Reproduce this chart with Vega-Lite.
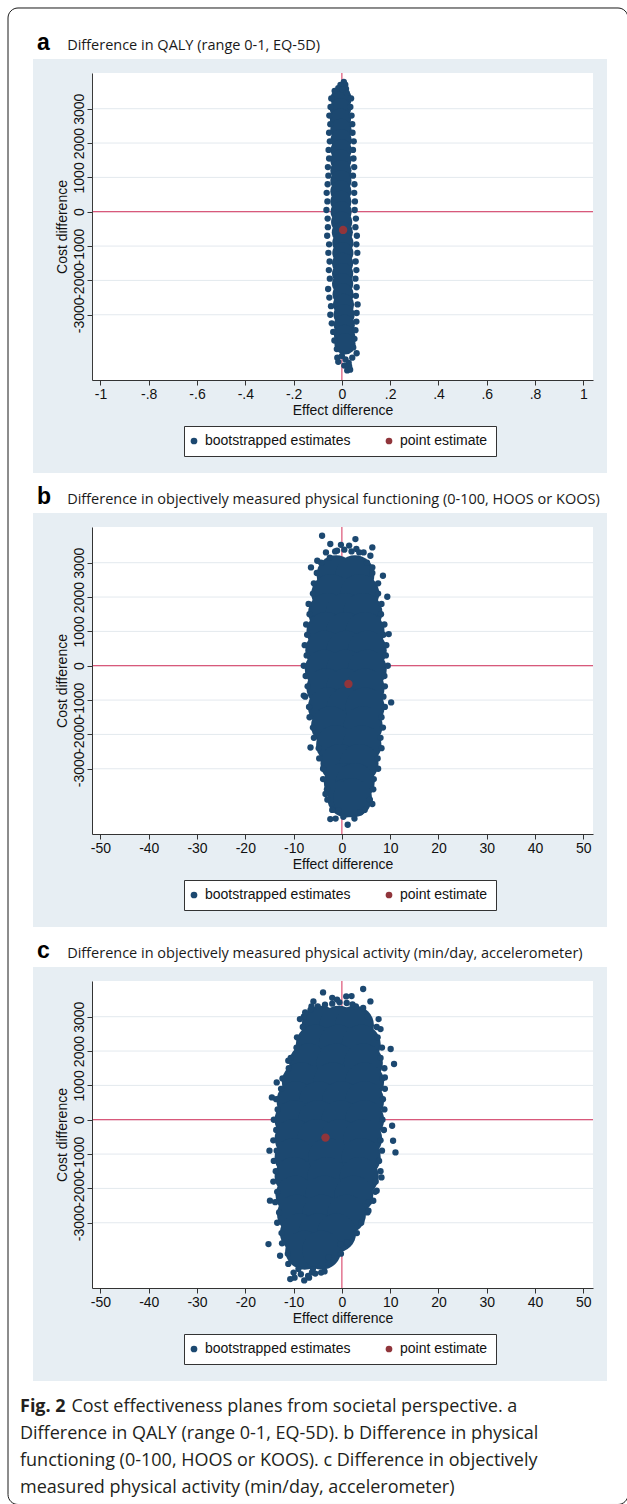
{
  "$schema": "https://vega.github.io/schema/vega-lite/v6.json",
  "autosize": {"type": "none"},
  "padding": {"left": 33, "top": 59, "right": 594, "bottom": 1445},
  "background": "white",
  "bounds": "flush",
  "spacing": 40,
  "title": {
    "text": "Fig. 2",
    "subtitle": [
      "\u200b\u00a0\u00a0\u00a0\u00a0\u00a0\u00a0\u00a0\u00a0\u00a0\u00a0\u00a0Cost effectiveness planes from societal perspective. a",
      "Difference in QALY (range 0-1, EQ-5D). b Difference in physical",
      "functioning (0-100, HOOS or KOOS). c Difference in objectively",
      "measured physical activity (min/day, accelerometer)"
    ],
    "orient": "bottom", "anchor": "start", "frame": "group", "dx": -13, "offset": -106.5,
    "font": "Open Sans", "fontSize": 18, "fontWeight": "bold", "color": "#231f20",
    "subtitleFont": "Open Sans", "subtitleFontSize": 18, "subtitleFontWeight": "normal", "subtitleColor": "#231f20",
    "subtitlePadding": -18, "subtitleLineHeight": 27
  },
  "datasets": {
    "grid": [{"g": -3000}, {"g": -2000}, {"g": -1000}, {"g": 0}, {"g": 1000}, {"g": 2000}, {"g": 3000}],
    "a_core": [
      {"x": -0.003, "y": 3300}, {"x": -0.006, "y": 3000}, {"x": -0.006, "y": 2700}, {"x": -0.004, "y": 2400}, {"x": -0.003, "y": 2100},
      {"x": -0.003, "y": 1800}, {"x": -0.004, "y": 1500}, {"x": -0.004, "y": 1200}, {"x": -0.004, "y": 900}, {"x": -0.004, "y": 600},
      {"x": -0.004, "y": 300}, {"x": -0.003, "y": 0}, {"x": -0.001, "y": -300}, {"x": 0.002, "y": -600}, {"x": 0.004, "y": -900},
      {"x": 0.004, "y": -1200}, {"x": 0.003, "y": -1500}, {"x": 0.003, "y": -1800}, {"x": 0.003, "y": -2100}, {"x": 0.005, "y": -2400},
      {"x": 0.007, "y": -2700}, {"x": 0.009, "y": -3000}, {"x": 0.01, "y": -3300}, {"x": 0.011, "y": -3600}, {"x": 0.013, "y": -3850}
    ],
    "a_pts": [
      {"x": 0.008, "y": 3780}, {"x": 0.014, "y": 3700}, {"x": -0.006, "y": 3690}, {"x": -0.015, "y": 3600}, {"x": 0.017, "y": 3580},
      {"x": 0.004, "y": 3560}, {"x": -0.03, "y": 3520}, {"x": 0.02, "y": 3460},
      {"x": -0.044, "y": 3300}, {"x": -0.047, "y": 3050}, {"x": -0.052, "y": 2800}, {"x": -0.048, "y": 2550}, {"x": -0.053, "y": 2300},
      {"x": -0.05, "y": 2050}, {"x": -0.055, "y": 1800}, {"x": -0.053, "y": 1550}, {"x": -0.058, "y": 1300}, {"x": -0.056, "y": 1050},
      {"x": -0.059, "y": 800}, {"x": -0.063, "y": 550}, {"x": -0.06, "y": 300}, {"x": -0.064, "y": 50}, {"x": -0.059, "y": -200},
      {"x": -0.058, "y": -450}, {"x": -0.061, "y": -700}, {"x": -0.053, "y": -950}, {"x": -0.056, "y": -1200}, {"x": -0.051, "y": -1450},
      {"x": -0.054, "y": -1700}, {"x": -0.05, "y": -1950}, {"x": -0.057, "y": -2250}, {"x": -0.052, "y": -2500}, {"x": -0.045, "y": -2750},
      {"x": -0.048, "y": -3000}, {"x": -0.042, "y": -3250}, {"x": -0.036, "y": -3500}, {"x": -0.031, "y": -3750}, {"x": -0.021, "y": -4000},
      {"x": -0.019, "y": -4250},
      {"x": 0.038, "y": 3300}, {"x": 0.035, "y": 3050}, {"x": 0.04, "y": 2800}, {"x": 0.043, "y": 2550}, {"x": 0.044, "y": 2300},
      {"x": 0.049, "y": 2050}, {"x": 0.046, "y": 1800}, {"x": 0.048, "y": 1550}, {"x": 0.051, "y": 1300}, {"x": 0.046, "y": 1050},
      {"x": 0.052, "y": 800}, {"x": 0.051, "y": 550}, {"x": 0.054, "y": 300}, {"x": 0.053, "y": 50}, {"x": 0.058, "y": -200},
      {"x": 0.056, "y": -450}, {"x": 0.062, "y": -700}, {"x": 0.06, "y": -950}, {"x": 0.064, "y": -1200}, {"x": 0.057, "y": -1450},
      {"x": 0.06, "y": -1700}, {"x": 0.056, "y": -1950}, {"x": 0.061, "y": -2200}, {"x": 0.058, "y": -2450}, {"x": 0.065, "y": -2700},
      {"x": 0.061, "y": -2950}, {"x": 0.06, "y": -3200}, {"x": 0.056, "y": -3450}, {"x": 0.052, "y": -3700}, {"x": 0.047, "y": -3950},
      {"x": 0.061, "y": -4120}, {"x": 0.043, "y": -4250},
      {"x": 0.0, "y": -4200}, {"x": 0.015, "y": -4300}, {"x": -0.015, "y": -4370}, {"x": 0.028, "y": -4400}, {"x": 0.01, "y": -4480},
      {"x": 0.03, "y": -4500}, {"x": 0.022, "y": -4620}, {"x": 0.034, "y": -4600}
    ],
    "a_est": [{"x": 0.005, "y": -530}],
    "b_core": [
      {"x": -1.2, "y": 2650}, {"x": 2.7, "y": 2650},
      {"x": -2.3, "y": 2100}, {"x": 3.7, "y": 2100},
      {"x": -2.95, "y": 1550}, {"x": 0.7, "y": 1550}, {"x": 4.35, "y": 1550},
      {"x": -3.3, "y": 1000}, {"x": 0.75, "y": 1000}, {"x": 4.8, "y": 1000},
      {"x": -3.55, "y": 450}, {"x": 0.85, "y": 450}, {"x": 5.25, "y": 450},
      {"x": -3.65, "y": -100}, {"x": 0.8, "y": -100}, {"x": 5.25, "y": -100},
      {"x": -3.3, "y": -650}, {"x": 0.75, "y": -650}, {"x": 4.8, "y": -650},
      {"x": -3.0, "y": -1200}, {"x": 0.9, "y": -1200}, {"x": 4.8, "y": -1200},
      {"x": -2.35, "y": -1750}, {"x": 4.4, "y": -1750},
      {"x": -1.3, "y": -2300}, {"x": 4.15, "y": -2300},
      {"x": -0.4, "y": -2850}, {"x": 3.55, "y": -2850},
      {"x": 0.3, "y": -3400}, {"x": 2.75, "y": -3400},
      {"x": 1.0, "y": -3850}, {"x": 2.2, "y": -3850}
    ],
    "b_pts": [
      {"x": -1.4, "y": 3330}, {"x": -4.3, "y": 3000}, {"x": -5.2, "y": 2700}, {"x": -5.8, "y": 2400}, {"x": -6.0, "y": 2100},
      {"x": -6.9, "y": 1800}, {"x": -6.7, "y": 1500}, {"x": -7.4, "y": 1200}, {"x": -7.2, "y": 900}, {"x": -7.7, "y": 600},
      {"x": -7.3, "y": 300}, {"x": -7.9, "y": 0}, {"x": -7.5, "y": -300}, {"x": -7.1, "y": -600}, {"x": -7.6, "y": -900},
      {"x": -6.8, "y": -1200}, {"x": -6.7, "y": -1500}, {"x": -6.0, "y": -1800}, {"x": -5.8, "y": -2100}, {"x": -4.8, "y": -2400},
      {"x": -4.7, "y": -2700}, {"x": -3.9, "y": -3000}, {"x": -3.9, "y": -3300}, {"x": -3.1, "y": -3600}, {"x": -3.0, "y": -3900},
      {"x": -2.0, "y": -4200}, {"x": -1.3, "y": -4450},
      {"x": 3.6, "y": 3300}, {"x": 5.2, "y": 3000}, {"x": 6.3, "y": 2700}, {"x": 7.5, "y": 2400}, {"x": 7.5, "y": 2100},
      {"x": 8.2, "y": 1800}, {"x": 8.1, "y": 1500}, {"x": 8.8, "y": 1200}, {"x": 8.6, "y": 900}, {"x": 9.2, "y": 600},
      {"x": 9.1, "y": 300}, {"x": 9.5, "y": 0}, {"x": 8.8, "y": -300}, {"x": 8.9, "y": -600}, {"x": 8.6, "y": -900},
      {"x": 8.9, "y": -1200}, {"x": 8.2, "y": -1500}, {"x": 8.5, "y": -1800}, {"x": 8.0, "y": -2100}, {"x": 8.2, "y": -2400},
      {"x": 7.4, "y": -2700}, {"x": 7.5, "y": -3000}, {"x": 6.6, "y": -3300}, {"x": 6.5, "y": -3600}, {"x": 5.8, "y": -3900},
      {"x": 4.7, "y": -4200}, {"x": 2.6, "y": -4450},
      {"x": -4.1, "y": 3786}, {"x": 2.8, "y": 3689}, {"x": 6.3, "y": 3445}, {"x": -2.4, "y": 3544}, {"x": 4.5, "y": 3300},
      {"x": 5.9, "y": 3203}, {"x": -6.4, "y": 2862}, {"x": -5.1, "y": 3058}, {"x": 6.3, "y": 2862}, {"x": 8.5, "y": 2620},
      {"x": 9.4, "y": 2009}, {"x": -7.9, "y": -870}, {"x": -6.5, "y": -2380}, {"x": 9.7, "y": 923}, {"x": 10.2, "y": -1068},
      {"x": -2.4, "y": -4465}, {"x": 1.2, "y": -4630}, {"x": -0.7, "y": -4222}, {"x": 3.8, "y": -4272}, {"x": 6.3, "y": -4027},
      {"x": -3.4, "y": -3736}, {"x": 0.3, "y": -4400},
      {"x": -2.5, "y": 3150}, {"x": -1.0, "y": 3350}, {"x": 0.5, "y": 3380}, {"x": 2.0, "y": 3330}, {"x": 3.0, "y": 3400},
      {"x": -0.2, "y": 3520}, {"x": 1.5, "y": 3500}, {"x": -3.3, "y": 3300}
    ],
    "b_est": [{"x": 1.35, "y": -530}],
    "c_core": [
      {"x": -4.3, "y": 2750}, {"x": -0.65, "y": 2750}, {"x": 2.6, "y": 2750},
      {"x": -5.5, "y": 2200}, {"x": -0.75, "y": 2200}, {"x": 4.0, "y": 2200},
      {"x": -6.9, "y": 1650}, {"x": -1.2, "y": 1650}, {"x": 4.45, "y": 1650},
      {"x": -8.4, "y": 1100}, {"x": -1.85, "y": 1100}, {"x": 4.7, "y": 1100},
      {"x": -9.5, "y": 550}, {"x": -4.8, "y": 550}, {"x": -0.1, "y": 550}, {"x": 4.7, "y": 550},
      {"x": -9.9, "y": 0}, {"x": -5.0, "y": 0}, {"x": -0.2, "y": 0}, {"x": 4.7, "y": 0},
      {"x": -9.9, "y": -550}, {"x": -5.2, "y": -550}, {"x": -0.5, "y": -550}, {"x": 4.3, "y": -550},
      {"x": -9.9, "y": -1100}, {"x": -2.95, "y": -1100}, {"x": 4.0, "y": -1100},
      {"x": -9.9, "y": -1650}, {"x": -3.15, "y": -1650}, {"x": 3.6, "y": -1650},
      {"x": -9.7, "y": -2200}, {"x": -3.6, "y": -2200}, {"x": 2.45, "y": -2200},
      {"x": -9.4, "y": -2750}, {"x": -4.2, "y": -2750}, {"x": 0.95, "y": -2750},
      {"x": -8.8, "y": -3300}, {"x": -4.95, "y": -3300}, {"x": -1.1, "y": -3300},
      {"x": -7.7, "y": -3800}, {"x": -4.2, "y": -3800}
    ],
    "c_pts": [
      {"x": -6.3, "y": 3300}, {"x": -7.9, "y": 3000}, {"x": -8.1, "y": 2700}, {"x": -9.3, "y": 2400}, {"x": -9.4, "y": 2100},
      {"x": -10.6, "y": 1800}, {"x": -11.0, "y": 1500}, {"x": -12.3, "y": 1200}, {"x": -12.6, "y": 900}, {"x": -13.6, "y": 600},
      {"x": -13.3, "y": 300}, {"x": -14.1, "y": 0}, {"x": -13.6, "y": -300}, {"x": -14.2, "y": -600}, {"x": -13.5, "y": -900},
      {"x": -14.1, "y": -1200}, {"x": -13.7, "y": -1500}, {"x": -14.2, "y": -1800}, {"x": -13.4, "y": -2100}, {"x": -13.8, "y": -2400},
      {"x": -13.0, "y": -2700}, {"x": -13.4, "y": -3000}, {"x": -12.5, "y": -3300}, {"x": -12.4, "y": -3600}, {"x": -11.2, "y": -3900},
      {"x": -11.1, "y": -4200}, {"x": -10.0, "y": -4450}, {"x": -9.8, "y": -4600},
      {"x": 2.9, "y": 3300}, {"x": 5.3, "y": 3000}, {"x": 7.2, "y": 2700}, {"x": 7.4, "y": 2400}, {"x": 8.3, "y": 2100},
      {"x": 8.0, "y": 1800}, {"x": 8.8, "y": 1500}, {"x": 8.4, "y": 1200}, {"x": 8.9, "y": 900}, {"x": 8.5, "y": 600},
      {"x": 8.8, "y": 300}, {"x": 8.4, "y": 0}, {"x": 8.7, "y": -300}, {"x": 8.0, "y": -600}, {"x": 8.3, "y": -900},
      {"x": 7.7, "y": -1200}, {"x": 8.0, "y": -1500}, {"x": 7.0, "y": -1800}, {"x": 6.9, "y": -2100}, {"x": 5.6, "y": -2400},
      {"x": 5.3, "y": -2700}, {"x": 4.0, "y": -3000}, {"x": 3.1, "y": -3300}, {"x": 1.1, "y": -3600}, {"x": -0.2, "y": -3900},
      {"x": -2.7, "y": -4200}, {"x": -4.3, "y": -4450}, {"x": -6.8, "y": -4600},
      {"x": -8.5, "y": -4500}, {"x": -7.0, "y": -4550}, {"x": -5.5, "y": -4480}, {"x": -9.0, "y": -4350}, {"x": -6.0, "y": -4350},
      {"x": -7.8, "y": -4680},
      {"x": -5.0, "y": 3300}, {"x": -3.5, "y": 3350}, {"x": -2.0, "y": 3380}, {"x": -0.5, "y": 3420}, {"x": 1.0, "y": 3400},
      {"x": 2.2, "y": 3360}, {"x": -6.5, "y": 3200},
      {"x": 4.4, "y": 3806}, {"x": 0.9, "y": 3590}, {"x": -3.9, "y": 3707}, {"x": -5.9, "y": 3445}, {"x": 5.9, "y": 3445},
      {"x": 4.4, "y": 3253}, {"x": 7.6, "y": 2932}, {"x": 8.0, "y": 2641}, {"x": 10.1, "y": 2059}, {"x": 10.8, "y": 1622},
      {"x": -14.5, "y": 650}, {"x": -13.5, "y": 1086}, {"x": 10.4, "y": -175}, {"x": 10.6, "y": -612}, {"x": 11.1, "y": -952},
      {"x": -15.2, "y": -3620}, {"x": -12.8, "y": -3960}, {"x": -10.7, "y": -4640}, {"x": -6.2, "y": -4447}, {"x": -3.6, "y": -4418},
      {"x": -2.7, "y": -4010}, {"x": -0.3, "y": -3620}, {"x": 1.1, "y": -3573}, {"x": -7.6, "y": 3125}, {"x": -8.7, "y": 2932},
      {"x": -11.1, "y": 1718}, {"x": -15.0, "y": -902}, {"x": -14.9, "y": -2358}, {"x": 8.9, "y": 1231}, {"x": 8.2, "y": -1680},
      {"x": 7.2, "y": -2068}, {"x": 6.5, "y": -2359}, {"x": 5.5, "y": -2650}, {"x": -2.0, "y": 3550}, {"x": 2.0, "y": 3600},
      {"x": -1.0, "y": 3500}
    ],
    "c_est": [{"x": -3.4, "y": -520}]
  },
  "vconcat": [
    {
      "width": 574, "height": 414,
      "title": {"text": "a", "subtitle": "\u200b\u00a0\u00a0\u00a0\u00a0\u00a0\u00a0\u00a0\u00a0Difference in QALY (range 0-1, EQ-5D)", "anchor": "start", "frame": "group", "dx": 4, "offset": -48, "font": "Liberation Sans", "fontSize": 23, "fontWeight": "bold", "color": "#000000", "subtitleFont": "Open Sans", "subtitleFontSize": 14.5, "subtitleColor": "#1a1a1a", "subtitlePadding": -16},
      "layer": [
        {"data": {"values": [{}]}, "mark": {"type": "rect", "filled": false, "stroke": "#1a1a1a", "strokeWidth": 1, "cornerRadius": 10}, "encoding": {"x": {"datum": -1.3829, "type": "quantitative", "title": "Effect difference", "scale": {"domain": [-1.035, 1.04], "range": [59, 560], "nice": false, "zero": false}}, "x2": {"datum": 1.185}, "y": {"datum": 5933, "type": "quantitative", "title": "Cost difference", "scale": {"domain": [-4900, 4040], "range": [321, 14], "nice": false, "zero": false}}, "y2": {"datum": -37646}}},
        {"data": {"values": [{}]}, "mark": {"type": "rect", "color": "#ffffff"}, "encoding": {"x": {"datum": -1.031, "type": "quantitative", "title": "Effect difference", "scale": {"domain": [-1.035, 1.04], "range": [59, 560], "nice": false, "zero": false}}, "x2": {"datum": 1.04}, "y": {"datum": 4040, "type": "quantitative", "title": "Cost difference", "scale": {"domain": [-4900, 4040], "range": [321, 14], "nice": false, "zero": false}}, "y2": {"datum": -4900}}},
        {"data": {"name": "grid"}, "mark": {"type": "rule", "color": "#e3e9ee", "strokeWidth": 1}, "encoding": {"x": {"datum": -1.031, "type": "quantitative", "title": "Effect difference", "scale": {"domain": [-1.035, 1.04], "range": [59, 560], "nice": false, "zero": false}}, "x2": {"datum": 1.04}, "y": {"field": "g", "type": "quantitative", "title": "Cost difference", "scale": {"domain": [-4900, 4040], "range": [321, 14], "nice": false, "zero": false}}}},
        {"data": {"values": [{}]}, "mark": {"type": "rule", "color": "#d4305a", "strokeWidth": 1}, "encoding": {"x": {"datum": -1.031, "type": "quantitative", "title": "Effect difference", "scale": {"domain": [-1.035, 1.04], "range": [59, 560], "nice": false, "zero": false}}, "x2": {"datum": 1.04}, "y": {"datum": 0, "type": "quantitative", "title": "Cost difference", "scale": {"domain": [-4900, 4040], "range": [321, 14], "nice": false, "zero": false}}}},
        {"data": {"values": [{}]}, "mark": {"type": "rule", "color": "#d4305a", "strokeWidth": 1}, "encoding": {"x": {"datum": 0, "type": "quantitative", "title": "Effect difference", "scale": {"domain": [-1.035, 1.04], "range": [59, 560], "nice": false, "zero": false}}, "y": {"datum": -4900, "type": "quantitative", "title": "Cost difference", "scale": {"domain": [-4900, 4040], "range": [321, 14], "nice": false, "zero": false}}, "y2": {"datum": 4040}}},
        {"data": {"name": "a_core"}, "mark": {"type": "point", "filled": true, "opacity": 1, "size": 450, "strokeWidth": 0, "color": "#1c4870"}, "encoding": {"x": {"field": "x", "type": "quantitative", "title": "Effect difference", "scale": {"domain": [-1.035, 1.04], "range": [59, 560], "nice": false, "zero": false}}, "y": {"field": "y", "type": "quantitative", "title": "Cost difference", "scale": {"domain": [-4900, 4040], "range": [321, 14], "nice": false, "zero": false}}}},
        {"data": {"name": "a_pts"}, "mark": {"type": "point", "filled": true, "opacity": 1, "size": 40, "strokeWidth": 0},
         "encoding": {
           "x": {"field": "x", "type": "quantitative", "title": "Effect difference", "scale": {"domain": [-1.035, 1.04], "range": [59, 560], "nice": false, "zero": false}, "axis": {"title": "Effect difference", "values": [-1, -0.8, -0.6, -0.4, -0.2, 0, 0.2, 0.4, 0.6, 0.8, 1], "labelExpr": "(datum.value < 0 ? '-' : '') + replace(format(abs(datum.value), '.1~f'), '0.', '.')"}},
           "y": {"field": "y", "type": "quantitative", "title": "Cost difference", "scale": {"domain": [-4900, 4040], "range": [321, 14], "nice": false, "zero": false}, "axis": {"title": "Cost difference", "values": [-3000, -2000, -1000, 0, 1000, 2000, 3000], "labelExpr": "(datum.value < 0 ? '-' : '') + format(abs(datum.value), 'd')"}},
           "color": {"datum": "bootstrapped estimates", "type": "nominal", "scale": {"domain": ["bootstrapped estimates", "point estimate"], "range": ["#1c4870", "#90353b"]}, "legend": {"orient": "none", "legendX": 151, "legendY": 367, "direction": "horizontal", "title": null, "strokeColor": "#333333", "fillColor": "#ffffff", "padding": 8, "symbolType": "circle", "symbolSize": 45, "symbolStrokeWidth": 0, "symbolOffset": -5, "labelFont": "Liberation Sans", "labelFontSize": 14, "labelColor": "#111111", "labelOffset": 4, "columnPadding": 34}}
         }},
        {"data": {"name": "a_est"}, "mark": {"type": "point", "filled": true, "opacity": 1, "size": 70, "strokeWidth": 0}, "encoding": {"x": {"field": "x", "type": "quantitative", "title": "Effect difference", "scale": {"domain": [-1.035, 1.04], "range": [59, 560], "nice": false, "zero": false}}, "y": {"field": "y", "type": "quantitative", "title": "Cost difference", "scale": {"domain": [-4900, 4040], "range": [321, 14], "nice": false, "zero": false}}, "color": {"datum": "point estimate", "type": "nominal", "scale": {"domain": ["bootstrapped estimates", "point estimate"], "range": ["#1c4870", "#90353b"]}}}}
      ]
    },
    {
      "width": 574, "height": 414,
      "title": {"text": "b", "subtitle": "\u200b\u00a0\u00a0\u00a0\u00a0\u00a0\u00a0\u00a0\u00a0Difference in objectively measured physical functioning (0-100, HOOS or KOOS)", "anchor": "start", "frame": "group", "dx": 4, "offset": 4, "font": "Liberation Sans", "fontSize": 23, "fontWeight": "bold", "color": "#000000", "subtitleFont": "Open Sans", "subtitleFontSize": 14.5, "subtitleColor": "#1a1a1a", "subtitlePadding": -16},
      "layer": [
        {"data": {"values": [{}]}, "mark": {"type": "rect", "color": "#ffffff"}, "encoding": {"x": {"datum": -51.543, "type": "quantitative", "title": "Effect difference", "scale": {"domain": [-51.75, 52], "range": [59, 560], "nice": false, "zero": false}}, "x2": {"datum": 52}, "y": {"datum": 4040, "type": "quantitative", "title": "Cost difference", "scale": {"domain": [-4900, 4040], "range": [321, 14], "nice": false, "zero": false}}, "y2": {"datum": -4900}}},
        {"data": {"name": "grid"}, "mark": {"type": "rule", "color": "#e3e9ee", "strokeWidth": 1}, "encoding": {"x": {"datum": -51.543, "type": "quantitative", "title": "Effect difference", "scale": {"domain": [-51.75, 52], "range": [59, 560], "nice": false, "zero": false}}, "x2": {"datum": 52}, "y": {"field": "g", "type": "quantitative", "title": "Cost difference", "scale": {"domain": [-4900, 4040], "range": [321, 14], "nice": false, "zero": false}}}},
        {"data": {"values": [{}]}, "mark": {"type": "rule", "color": "#d4305a", "strokeWidth": 1}, "encoding": {"x": {"datum": -51.543, "type": "quantitative", "title": "Effect difference", "scale": {"domain": [-51.75, 52], "range": [59, 560], "nice": false, "zero": false}}, "x2": {"datum": 52}, "y": {"datum": 0, "type": "quantitative", "title": "Cost difference", "scale": {"domain": [-4900, 4040], "range": [321, 14], "nice": false, "zero": false}}}},
        {"data": {"values": [{}]}, "mark": {"type": "rule", "color": "#d4305a", "strokeWidth": 1}, "encoding": {"x": {"datum": 0, "type": "quantitative", "title": "Effect difference", "scale": {"domain": [-51.75, 52], "range": [59, 560], "nice": false, "zero": false}}, "y": {"datum": -4900, "type": "quantitative", "title": "Cost difference", "scale": {"domain": [-4900, 4040], "range": [321, 14], "nice": false, "zero": false}}, "y2": {"datum": 4040}}},
        {"data": {"name": "b_core"}, "mark": {"type": "point", "filled": true, "opacity": 1, "size": 1520, "strokeWidth": 0, "color": "#1c4870"}, "encoding": {"x": {"field": "x", "type": "quantitative", "title": "Effect difference", "scale": {"domain": [-51.75, 52], "range": [59, 560], "nice": false, "zero": false}}, "y": {"field": "y", "type": "quantitative", "title": "Cost difference", "scale": {"domain": [-4900, 4040], "range": [321, 14], "nice": false, "zero": false}}}},
        {"data": {"name": "b_pts"}, "mark": {"type": "point", "filled": true, "opacity": 1, "size": 40, "strokeWidth": 0},
         "encoding": {
           "x": {"field": "x", "type": "quantitative", "title": "Effect difference", "scale": {"domain": [-51.75, 52], "range": [59, 560], "nice": false, "zero": false}, "axis": {"title": "Effect difference", "values": [-50, -40, -30, -20, -10, 0, 10, 20, 30, 40, 50], "labelExpr": "(datum.value < 0 ? '-' : '') + format(abs(datum.value), 'd')"}},
           "y": {"field": "y", "type": "quantitative", "title": "Cost difference", "scale": {"domain": [-4900, 4040], "range": [321, 14], "nice": false, "zero": false}, "axis": {"title": "Cost difference", "values": [-3000, -2000, -1000, 0, 1000, 2000, 3000], "labelExpr": "(datum.value < 0 ? '-' : '') + format(abs(datum.value), 'd')"}},
           "color": {"datum": "bootstrapped estimates", "type": "nominal", "scale": {"domain": ["bootstrapped estimates", "point estimate"], "range": ["#1c4870", "#90353b"]}, "legend": {"orient": "none", "legendX": 151, "legendY": 367, "direction": "horizontal", "title": null, "strokeColor": "#333333", "fillColor": "#ffffff", "padding": 8, "symbolType": "circle", "symbolSize": 45, "symbolStrokeWidth": 0, "symbolOffset": -5, "labelFont": "Liberation Sans", "labelFontSize": 14, "labelColor": "#111111", "labelOffset": 4, "columnPadding": 34}}
         }},
        {"data": {"name": "b_est"}, "mark": {"type": "point", "filled": true, "opacity": 1, "size": 70, "strokeWidth": 0}, "encoding": {"x": {"field": "x", "type": "quantitative", "title": "Effect difference", "scale": {"domain": [-51.75, 52], "range": [59, 560], "nice": false, "zero": false}}, "y": {"field": "y", "type": "quantitative", "title": "Cost difference", "scale": {"domain": [-4900, 4040], "range": [321, 14], "nice": false, "zero": false}}, "color": {"datum": "point estimate", "type": "nominal", "scale": {"domain": ["bootstrapped estimates", "point estimate"], "range": ["#1c4870", "#90353b"]}}}}
      ]
    },
    {
      "width": 574, "height": 414,
      "title": {"text": "c", "subtitle": "\u200b\u00a0\u00a0\u00a0\u00a0\u00a0\u00a0\u00a0\u00a0Difference in objectively measured physical activity (min/day, accelerometer)", "anchor": "start", "frame": "group", "dx": 4, "offset": 4, "font": "Liberation Sans", "fontSize": 23, "fontWeight": "bold", "color": "#000000", "subtitleFont": "Open Sans", "subtitleFontSize": 14.5, "subtitleColor": "#1a1a1a", "subtitlePadding": -16},
      "layer": [
        {"data": {"values": [{}]}, "mark": {"type": "rect", "color": "#ffffff"}, "encoding": {"x": {"datum": -51.543, "type": "quantitative", "title": "Effect difference", "scale": {"domain": [-51.75, 52], "range": [59, 560], "nice": false, "zero": false}}, "x2": {"datum": 52}, "y": {"datum": 4040, "type": "quantitative", "title": "Cost difference", "scale": {"domain": [-4900, 4040], "range": [321, 14], "nice": false, "zero": false}}, "y2": {"datum": -4900}}},
        {"data": {"name": "grid"}, "mark": {"type": "rule", "color": "#e3e9ee", "strokeWidth": 1}, "encoding": {"x": {"datum": -51.543, "type": "quantitative", "title": "Effect difference", "scale": {"domain": [-51.75, 52], "range": [59, 560], "nice": false, "zero": false}}, "x2": {"datum": 52}, "y": {"field": "g", "type": "quantitative", "title": "Cost difference", "scale": {"domain": [-4900, 4040], "range": [321, 14], "nice": false, "zero": false}}}},
        {"data": {"values": [{}]}, "mark": {"type": "rule", "color": "#d4305a", "strokeWidth": 1}, "encoding": {"x": {"datum": -51.543, "type": "quantitative", "title": "Effect difference", "scale": {"domain": [-51.75, 52], "range": [59, 560], "nice": false, "zero": false}}, "x2": {"datum": 52}, "y": {"datum": 0, "type": "quantitative", "title": "Cost difference", "scale": {"domain": [-4900, 4040], "range": [321, 14], "nice": false, "zero": false}}}},
        {"data": {"values": [{}]}, "mark": {"type": "rule", "color": "#d4305a", "strokeWidth": 1}, "encoding": {"x": {"datum": 0, "type": "quantitative", "title": "Effect difference", "scale": {"domain": [-51.75, 52], "range": [59, 560], "nice": false, "zero": false}}, "y": {"datum": -4900, "type": "quantitative", "title": "Cost difference", "scale": {"domain": [-4900, 4040], "range": [321, 14], "nice": false, "zero": false}}, "y2": {"datum": 4040}}},
        {"data": {"name": "c_core"}, "mark": {"type": "point", "filled": true, "opacity": 1, "size": 1520, "strokeWidth": 0, "color": "#1c4870"}, "encoding": {"x": {"field": "x", "type": "quantitative", "title": "Effect difference", "scale": {"domain": [-51.75, 52], "range": [59, 560], "nice": false, "zero": false}}, "y": {"field": "y", "type": "quantitative", "title": "Cost difference", "scale": {"domain": [-4900, 4040], "range": [321, 14], "nice": false, "zero": false}}}},
        {"data": {"name": "c_pts"}, "mark": {"type": "point", "filled": true, "opacity": 1, "size": 40, "strokeWidth": 0},
         "encoding": {
           "x": {"field": "x", "type": "quantitative", "title": "Effect difference", "scale": {"domain": [-51.75, 52], "range": [59, 560], "nice": false, "zero": false}, "axis": {"title": "Effect difference", "values": [-50, -40, -30, -20, -10, 0, 10, 20, 30, 40, 50], "labelExpr": "(datum.value < 0 ? '-' : '') + format(abs(datum.value), 'd')"}},
           "y": {"field": "y", "type": "quantitative", "title": "Cost difference", "scale": {"domain": [-4900, 4040], "range": [321, 14], "nice": false, "zero": false}, "axis": {"title": "Cost difference", "values": [-3000, -2000, -1000, 0, 1000, 2000, 3000], "labelExpr": "(datum.value < 0 ? '-' : '') + format(abs(datum.value), 'd')"}},
           "color": {"datum": "bootstrapped estimates", "type": "nominal", "scale": {"domain": ["bootstrapped estimates", "point estimate"], "range": ["#1c4870", "#90353b"]}, "legend": {"orient": "none", "legendX": 151, "legendY": 367, "direction": "horizontal", "title": null, "strokeColor": "#333333", "fillColor": "#ffffff", "padding": 8, "symbolType": "circle", "symbolSize": 45, "symbolStrokeWidth": 0, "symbolOffset": -5, "labelFont": "Liberation Sans", "labelFontSize": 14, "labelColor": "#111111", "labelOffset": 4, "columnPadding": 34}}
         }},
        {"data": {"name": "c_est"}, "mark": {"type": "point", "filled": true, "opacity": 1, "size": 70, "strokeWidth": 0}, "encoding": {"x": {"field": "x", "type": "quantitative", "title": "Effect difference", "scale": {"domain": [-51.75, 52], "range": [59, 560], "nice": false, "zero": false}}, "y": {"field": "y", "type": "quantitative", "title": "Cost difference", "scale": {"domain": [-4900, 4040], "range": [321, 14], "nice": false, "zero": false}}, "color": {"datum": "point estimate", "type": "nominal", "scale": {"domain": ["bootstrapped estimates", "point estimate"], "range": ["#1c4870", "#90353b"]}}}}
      ]
    }
  ],
  "resolve": {
    "scale": {"x": "independent", "y": "independent", "color": "independent"},
    "axis": {"x": "independent", "y": "independent"},
    "legend": {"color": "independent"}
  },
  "config": {
    "view": {"stroke": null, "fill": "#e7eef3"},
    "axis": {"labelFont": "Liberation Sans", "labelFontSize": 14, "labelColor": "#111111", "titleFont": "Liberation Sans", "titleFontSize": 14, "titleFontWeight": "normal", "titleColor": "#111111", "domainColor": "#333333", "tickColor": "#333333", "tickSize": 5, "labelOverlap": false, "labelFlush": false, "labelBound": false, "grid": false},
    "axisX": {"offset": -93, "labelPadding": 2, "titlePadding": 2},
    "axisY": {"offset": -59, "labelAngle": 270, "labelAlign": "center", "labelBaseline": "alphabetic", "labelPadding": 4, "titlePadding": 3}
  }
}
